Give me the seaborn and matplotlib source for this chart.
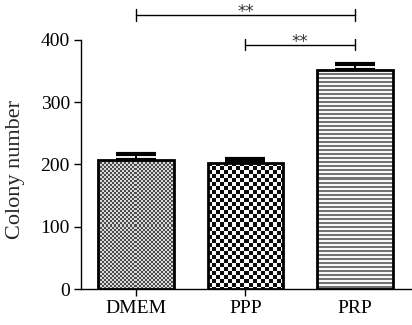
import numpy as np
import pandas as pd
import matplotlib
matplotlib.use("Agg")
import matplotlib.pyplot as plt
import seaborn as sns

groups = ["DMEM", "PPP", "PRP"]
values = [207, 203, 352]
errors = [9, 6, 10]
yticks = [0, 100, 200, 300, 400]
sig_pairs = [(0, 2, 440, "**"), (1, 2, 392, "**")]

sns.set_theme(style="ticks")
plt.rcParams["font.family"] = ["Liberation Serif", "DejaVu Serif"]

W, H, DPI = 412, 325, 100
fig = plt.figure(figsize=(W / DPI, H / DPI), dpi=DPI)
ax = fig.add_axes([81 / W, 36 / H, (412 - 81) / W, (325 - 36) / H])

df = pd.DataFrame({"group": groups, "value": values})
sns.barplot(data=df, x="group", y="value", order=groups, width=0.69,
            color="white", edgecolor="black", linewidth=2.0, ax=ax,
            errorbar=None, saturation=1, zorder=3)

XLIM = (-0.5, 2.52)
YLIM = (0, 464)
ax.set_xlim(*XLIM)
ax.set_ylim(*YLIM)

# error bars (upper only)
xs = np.arange(len(groups))
ax.errorbar(xs, values, yerr=[np.zeros(len(errors)), errors], fmt="none",
            ecolor="black", elinewidth=1.4, capsize=14.5, capthick=3, zorder=2)


def pattern(kind, hpx, wpx):
    yy, xx = np.mgrid[0:hpx, 0:wpx]
    if kind == 0:
        c = 2
        chk = ((yy // c + xx // c) % 2).astype(float)
        return np.where(chk == 1, 0.85, 0.3)
    if kind == 1:
        c = 4
        chk = ((yy // c + xx // c) % 2).astype(float)
        return np.where(chk == 1, 0.97, 0.05)
    stripes = (yy // 2) % 2
    return np.where(stripes == 1, 0.97, 0.45)


fig.canvas.draw()
for i, p in enumerate(ax.patches[:3]):
    x0, y0 = p.get_x(), p.get_y()
    w, h = p.get_width(), p.get_height()
    (px0, py0), (px1, py1) = ax.transData.transform([(x0, y0), (x0 + w, y0 + h)])
    wpx, hpx = int(abs(px1 - px0)), int(abs(py1 - py0))
    img = pattern(i, hpx, wpx)
    im = ax.imshow(img, cmap="gray", vmin=0, vmax=1, extent=(x0, x0 + w, y0, y0 + h),
                   interpolation="nearest", aspect="auto", zorder=2.5, origin="upper")
    im.set_clip_path(p)
    p.set_facecolor("none")
    p.set_zorder(4)

ax.set_xlim(*XLIM)
ax.set_ylim(*YLIM)

# significance brackets
for a, b, y, txt in sig_pairs:
    ax.plot([a, b], [y, y], color="black", lw=1.0, clip_on=False, zorder=5)
    for xv in (a, b):
        ax.plot([xv, xv], [y - 9, y + 9], color="black", lw=1.0, clip_on=False, zorder=5)
    ax.text((a + b) / 2, y + 4, txt, ha="center", va="center", fontsize=12,
            family=["DejaVu Sans"], color="#333333")

ax.set_yticks(yticks)
ax.set_yticklabels([str(t) for t in yticks], fontsize=14)
ax.set_xticks(xs)
ax.set_xticklabels(groups, fontsize=14)
ax.xaxis.get_major_ticks()[2].tick1line.set_visible(False)
ax.set_xlabel("")
ax.set_ylabel("Colony number", fontsize=16)
ax.yaxis.set_label_coords(-0.17, 0.415)
ax.spines["top"].set_visible(False)
ax.spines["right"].set_visible(False)
ax.spines["left"].set_bounds(0, 400)
for s in ("left", "bottom"):
    ax.spines[s].set_linewidth(1.0)
    ax.spines[s].set_color("black")
ax.tick_params(axis="both", length=5, width=1.0, colors="black", pad=3)

fig.savefig("out.png", dpi=DPI)
